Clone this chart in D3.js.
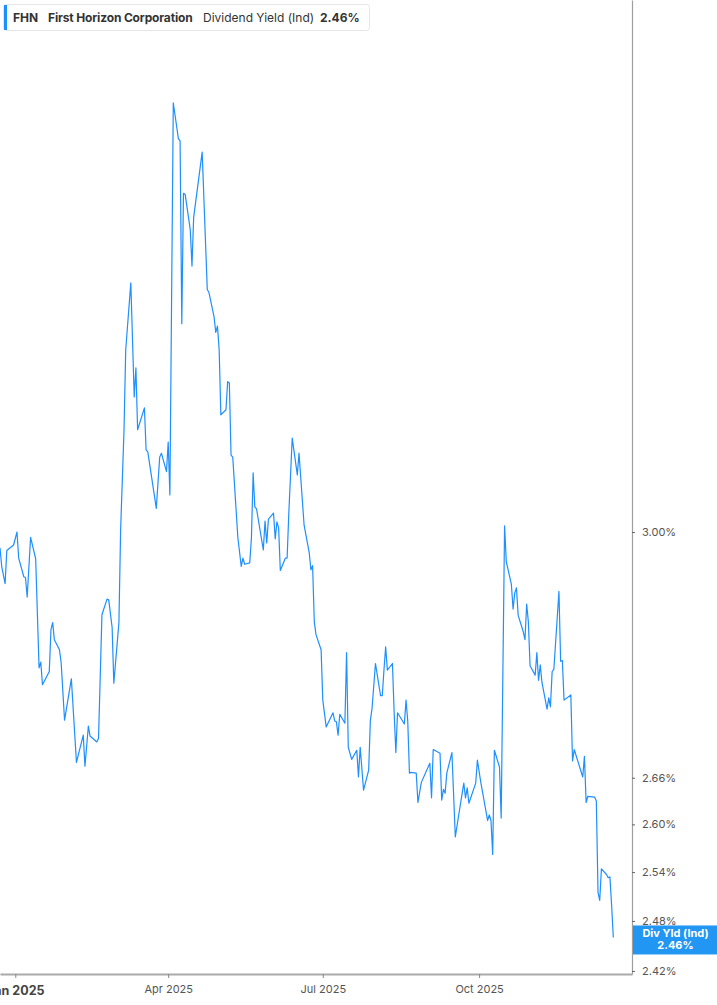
<!DOCTYPE html>
<html>
<head>
<meta charset="utf-8">
<script src="https://cdn.jsdelivr.net/npm/d3@7"></script>
<style>
  html, body { margin: 0; padding: 0; background: #fff; }
  body { font-family: Inter, "Noto Sans", sans-serif; }
  svg text { font-family: Inter, "Noto Sans", sans-serif; }
</style>
</head>
<body>
<div id="container"></div>
<script>
/* CONSTANTS AND GLOBALS */
const width = 717,
  height = 1005,
  plotRight = 632,
  plotBottom = 974,
  lineColor = "#1e8fff";

/* DATA */
const dates = [
  "2024-12-23","2024-12-24","2024-12-26","2024-12-27","2024-12-31","2025-01-02","2025-01-03","2025-01-06","2025-01-07","2025-01-08",
  "2025-01-10","2025-01-13","2025-01-15","2025-01-16","2025-01-17","2025-01-21","2025-01-22","2025-01-23","2025-01-24","2025-01-27",
  "2025-01-28","2025-01-30","2025-02-03","2025-02-06","2025-02-10","2025-02-11","2025-02-13","2025-02-14","2025-02-18","2025-02-19",
  "2025-02-21","2025-02-24","2025-02-25","2025-02-27","2025-02-28","2025-03-03","2025-03-04","2025-03-06","2025-03-07","2025-03-10",
  "2025-03-12","2025-03-13","2025-03-14","2025-03-18","2025-03-19","2025-03-20","2025-03-25","2025-03-27","2025-03-28","2025-03-31",
  "2025-04-01","2025-04-02","2025-04-04","2025-04-07","2025-04-08","2025-04-09","2025-04-10","2025-04-11","2025-04-14","2025-04-15",
  "2025-04-16","2025-04-21","2025-04-24","2025-04-25","2025-04-28","2025-04-29","2025-04-30","2025-05-01","2025-05-02","2025-05-05",
  "2025-05-06","2025-05-07","2025-05-08","2025-05-09","2025-05-12","2025-05-14","2025-05-15","2025-05-16","2025-05-19","2025-05-20",
  "2025-05-21","2025-05-22","2025-05-23","2025-05-27","2025-05-28","2025-05-29","2025-05-30","2025-06-02","2025-06-03","2025-06-04",
  "2025-06-05","2025-06-06","2025-06-09","2025-06-10","2025-06-11","2025-06-13","2025-06-16","2025-06-17","2025-06-20","2025-06-23",
  "2025-06-24","2025-06-25","2025-06-26","2025-06-27","2025-06-30","2025-07-01","2025-07-03","2025-07-07","2025-07-08","2025-07-09",
  "2025-07-10","2025-07-11","2025-07-14","2025-07-15","2025-07-16","2025-07-18","2025-07-21","2025-07-22","2025-07-23","2025-07-25",
  "2025-07-28","2025-07-29","2025-07-30","2025-08-01","2025-08-04","2025-08-05","2025-08-06","2025-08-07","2025-08-08","2025-08-11",
  "2025-08-12","2025-08-13","2025-08-14","2025-08-18","2025-08-19","2025-08-20","2025-08-21","2025-08-22","2025-08-25","2025-08-26",
  "2025-08-28","2025-09-02","2025-09-03","2025-09-04","2025-09-08","2025-09-09","2025-09-10","2025-09-11","2025-09-12","2025-09-15",
  "2025-09-17","2025-09-19","2025-09-22","2025-09-23","2025-09-24","2025-09-25","2025-09-29","2025-09-30","2025-10-02","2025-10-06",
  "2025-10-07","2025-10-08","2025-10-09","2025-10-10","2025-10-13","2025-10-14","2025-10-16","2025-10-17","2025-10-20","2025-10-21",
  "2025-10-22","2025-10-23","2025-10-24","2025-10-27","2025-10-28","2025-10-29","2025-10-30","2025-10-31","2025-11-03","2025-11-04",
  "2025-11-05","2025-11-06","2025-11-07","2025-11-10","2025-11-11","2025-11-12","2025-11-13","2025-11-14","2025-11-17","2025-11-18",
  "2025-11-19","2025-11-20","2025-11-24","2025-11-25","2025-11-26","2025-12-01","2025-12-02","2025-12-03","2025-12-04","2025-12-08",
  "2025-12-09","2025-12-10","2025-12-11","2025-12-12","2025-12-15","2025-12-16","2025-12-17","2025-12-18","2025-12-19"
];

const yields = [
  2.977,2.950,2.925,2.973,2.981,3.000,2.962,2.935,2.934,2.906,
  2.992,2.961,2.807,2.815,2.784,2.802,2.860,2.870,2.846,2.832,
  2.814,2.736,2.792,2.680,2.716,2.675,2.728,2.715,2.707,2.712,
  2.881,2.903,2.902,2.863,2.786,2.870,3.003,3.154,3.280,3.389,
  3.205,3.251,3.154,3.188,3.123,3.120,3.035,3.112,3.118,3.090,
  3.135,3.055,3.701,3.637,3.633,3.322,3.541,3.539,3.478,3.417,
  3.500,3.613,3.378,3.373,3.333,3.308,3.318,3.280,3.177,3.185,
  3.229,3.227,3.115,3.112,2.992,2.950,2.962,2.953,2.955,2.992,
  3.088,3.037,3.034,2.974,3.016,2.984,3.019,3.028,2.990,3.015,
  3.006,2.944,2.962,2.962,3.028,3.141,3.085,3.118,3.010,2.970,
  2.945,2.951,2.871,2.853,2.832,2.763,2.727,2.746,2.735,2.734,
  2.716,2.744,2.732,2.828,2.700,2.684,2.696,2.661,2.700,2.644,
  2.670,2.736,2.752,2.813,2.769,2.769,2.804,2.836,2.804,2.813,
  2.746,2.693,2.746,2.731,2.763,2.735,2.666,2.667,2.666,2.628,
  2.654,2.679,2.634,2.697,2.692,2.631,2.645,2.640,2.666,2.693,
  2.584,2.612,2.653,2.634,2.647,2.627,2.653,2.683,2.654,2.605,
  2.612,2.605,2.562,2.696,2.674,2.608,3.009,2.957,2.924,2.889,
  2.912,2.919,2.880,2.857,2.846,2.896,2.871,2.810,2.797,2.828,
  2.790,2.811,2.787,2.751,2.766,2.754,2.802,2.805,2.914,2.816,
  2.817,2.763,2.770,2.682,2.697,2.661,2.688,2.628,2.636,2.635,
  2.630,2.515,2.505,2.544,2.537,2.533,2.534,2.499,2.460
];

const yTicks = [2.42, 2.48, 2.54, 2.60, 2.66, 3.00];
const xTicks = ["2025-01-01", "2025-04-01", "2025-07-01", "2025-10-01"];
const xDomain = ["2024-12-23", "2025-12-30"];
const yDomain = [2.4164, 3.8923];

const ticker = "FHN",
  company = "First Horizon Corporation",
  metric = "Dividend Yield (Ind)",
  tagLabel = "Div Yld (Ind)",
  lastValue = yields[yields.length - 1];

const parse = d3.timeParse("%Y-%m-%d");
const data = dates.map((d, i) => ({ date: parse(d), value: yields[i] }));

/* SCALES */
const xScale = d3.scaleTime()
  .domain(xDomain.map(parse))
  .range([0, plotRight]);

const yScale = d3.scaleLog()
  .domain(yDomain)
  .range([plotBottom, 0]);

/* SVG */
const svg = d3.select("#container")
  .append("svg")
  .attr("width", width)
  .attr("height", height);

svg.append("defs").append("clipPath")
  .attr("id", "plot-clip")
  .append("rect")
  .attr("x", 0).attr("y", 0)
  .attr("width", plotRight).attr("height", plotBottom);

// line
const line = d3.line()
  .x(d => xScale(d.date))
  .y(d => yScale(d.value));

svg.append("path")
  .datum(data)
  .attr("clip-path", "url(#plot-clip)")
  .attr("fill", "none")
  .attr("stroke", lineColor)
  .attr("stroke-width", 1.2)
  .attr("stroke-linejoin", "round")
  .attr("d", line);

// right axis
const yAxis = d3.axisRight(yScale)
  .tickValues(yTicks)
  .tickFormat(d => d.toFixed(2) + "%")
  .tickSize(3)
  .tickSizeOuter(0);

const yG = svg.append("g")
  .attr("transform", `translate(${plotRight},0)`)
  .call(yAxis);
yG.select(".domain").attr("stroke", "#9e9e9e").attr("stroke-width", 1.2);
yG.selectAll(".tick line").attr("stroke", "#666");
yG.selectAll(".tick text")
  .attr("x", 10)
  .attr("fill", "#555")
  .style("font-size", "11px");

// bottom axis
const xAxis = d3.axisBottom(xScale)
  .tickValues(xTicks.map(parse))
  .tickFormat(d3.timeFormat("%b %Y"))
  .tickSize(4)
  .tickSizeOuter(0);

const xG = svg.append("g")
  .attr("transform", `translate(0,${plotBottom})`)
  .call(xAxis);
xG.select(".domain").attr("stroke", "#aaaaaa").attr("stroke-width", 1.8);
xG.selectAll(".tick line").attr("stroke", "#888");
xG.selectAll(".tick text")
  .attr("y", 11)
  .attr("fill", "#555")
  .style("font-size", "11px");
xG.selectAll(".tick text")
  .filter(d => d.getMonth() === 0)
  .attr("fill", "#444")
  .style("font-weight", "bold")
  .style("font-size", "12.5px")
  .attr("y", 12);

// last value tag
const tag = svg.append("g")
  .attr("transform", `translate(${plotRight + 1},${yScale(lastValue) - 12})`);
tag.append("rect")
  .attr("width", width - plotRight - 1)
  .attr("height", 29)
  .attr("fill", "#2196f3");
tag.append("text")
  .attr("x", (width - plotRight) / 2)
  .attr("y", 12)
  .attr("text-anchor", "middle")
  .attr("fill", "#fff")
  .style("font-size", "11px")
  .style("font-weight", "bold")
  .text(tagLabel);
tag.append("text")
  .attr("x", (width - plotRight) / 2)
  .attr("y", 24)
  .attr("text-anchor", "middle")
  .attr("fill", "#fff")
  .style("font-size", "11px")
  .style("font-weight", "bold")
  .text(lastValue.toFixed(2) + "%");

// legend box
const legend = svg.append("g").attr("transform", "translate(3,4)");
legend.append("rect")
  .attr("x", 0.5).attr("y", 0.5)
  .attr("width", 366).attr("height", 26)
  .attr("rx", 3)
  .attr("fill", "#fff")
  .attr("stroke", "#e6e6e6");
legend.append("rect")
  .attr("x", 1).attr("y", 1)
  .attr("width", 3).attr("height", 25)
  .attr("fill", lineColor);

const legendText = legend.append("text")
  .attr("y", 17.5)
  .attr("fill", "#333")
  .style("font-size", "12px");
legendText.append("tspan").attr("x", 10).style("font-weight", "bold").text(ticker);
legendText.append("tspan").attr("x", 45).style("font-weight", "bold").style("letter-spacing", "-0.15px").text(company);
legendText.append("tspan").attr("x", 200).style("letter-spacing", "0px").text(metric);
legendText.append("tspan").attr("x", 317).style("font-weight", "bold").text(lastValue.toFixed(2) + "%");
</script>
</body>
</html>
